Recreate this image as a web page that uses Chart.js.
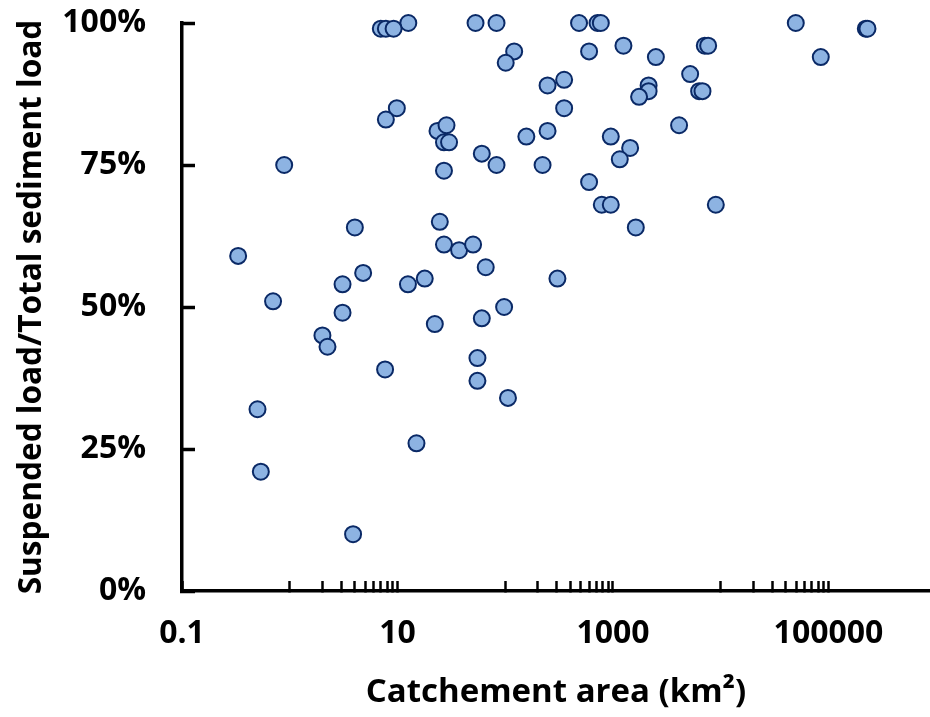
<!DOCTYPE html>
<html>
<head>
<meta charset="utf-8">
<title>Suspended load share vs catchment area</title>
<script src="https://cdn.jsdelivr.net/npm/chart.js@4.4.1/dist/chart.umd.min.js"></script>
<style>
  html, body { margin: 0; padding: 0; background: #fff; }
  #chartBox { width: 930px; height: 717px; }
</style>
</head>
<body>
<div id="chartBox"><canvas id="myChart" width="930" height="717"></canvas></div>
<script>
// catchment area in km2, one entry per river
const areaKm2 = [
    12.6, 53, 83, 484, 718, 771, 49700,
    7.0, 7.8, 9.2, 222000, 230000,
    7110, 7640, 1250, 121, 600, 2500, 84800, 101,
    5200, 352, 247, 2140, 2140, 1746, 6300, 6770,
    352, 9.86, 7.8, 23.5, 28.5, 27.0, 30.1, 157, 247, 954,
    1442, 1156, 4105, 83, 222, 27.0, 60.6, 600,
    787, 954, 9000, 1628, 305, 97.6, 106,
    0.888, 4.02, 24.7, 0.332, 27.0, 37.3, 50.3, 65.9,
    4.80, 3.09, 12.5, 17.9, 0.700, 3.09, 22.2, 60.6,
    2.01, 2.24, 7.67, 55.2, 55.2, 0.502, 0.539, 3.87, 15.0
];

// suspended load / total sediment load, in %
const suspendedPct = [
    100, 100, 100, 100, 100, 100, 100,
    99, 99, 99, 99, 99,
    96, 96, 96, 95, 95, 94, 94, 93,
    91, 90, 89, 89, 88, 87, 88, 88,
    85, 85, 83, 81, 82, 79, 79, 80, 81, 80,
    78, 76, 82, 75, 75, 74, 77, 72,
    68, 68, 68, 64, 55, 50, 34,
    75, 64, 65, 59, 61, 60, 61, 57,
    56, 54, 54, 55, 51, 49, 47, 48,
    45, 43, 39, 41, 37, 32, 21, 10, 26
];

const yTicks = [0, 25, 50, 75, 100];
const xLabelTicks = [0.1, 10, 1000, 100000];
// small ticks are only drawn in these decades (1-10, 100-1000, 10000-100000)
const xMinorDecades = [1, 100, 10000];

function buildXTicks() {
    const values = [0.1];
    xMinorDecades.forEach(function (d) {
        for (let m = 1; m <= 10; m++) {
            values.push(d * m);
        }
    });
    return values.map(function (v) { return { value: v }; });
}

Chart.defaults.font.family = '"Open Sans", Lato, sans-serif';
Chart.defaults.font.weight = 'bold';
Chart.defaults.font.size = 32;
Chart.defaults.color = '#000';

const points = areaKm2.map(function (a, i) {
    return { x: a, y: suspendedPct[i] };
});

const ctx = document.getElementById('myChart').getContext('2d');
new Chart(ctx, {
    type: 'scatter',
    data: {
        datasets: [{
            label: 'Suspended load share',
            data: points,
            pointRadius: 8,
            pointHoverRadius: 8,
            pointBorderWidth: 2,
            backgroundColor: '#8DB3E2',
            borderColor: '#0A2966',
            clip: false
        }]
    },
    options: {
        responsive: false,
        animation: false,
        events: [],
        layout: {
            autoPadding: false,
            padding: { top: 23, right: 0, bottom: 0, left: 0 }
        },
        scales: {
            x: {
                type: 'logarithmic',
                position: 'bottom',
                min: 0.1,
                max: 875000,
                afterBuildTicks: function (scale) {
                    scale.ticks = buildXTicks();
                },
                afterFit: function (scale) {
                    scale.height = 126;
                    scale.paddingLeft = 0;
                    scale.paddingRight = 0;
                },
                grid: {
                    drawOnChartArea: false,
                    drawTicks: true,
                    tickLength: -10,
                    tickWidth: 2.5,
                    tickColor: '#000'
                },
                border: { display: true, color: '#000', width: 3.5 },
                ticks: {
                    autoSkip: false,
                    maxRotation: 0,
                    minRotation: 0,
                    padding: 34,
                    callback: function (value) {
                        return xLabelTicks.includes(value) ? String(value) : '';
                    }
                },
                title: {
                    display: true,
                    text: 'Catchement area (km²)',
                    font: { size: 33 },
                    padding: { top: 0, bottom: 5 }
                }
            },
            y: {
                min: 0,
                max: 100,
                afterBuildTicks: function (scale) {
                    scale.ticks = yTicks.map(function (v) { return { value: v }; });
                },
                afterFit: function (scale) {
                    scale.width = 182;
                    scale.paddingTop = 0;
                    scale.paddingBottom = 0;
                },
                grid: {
                    drawOnChartArea: false,
                    drawTicks: true,
                    tickLength: -13,
                    tickWidth: 3.5,
                    tickColor: '#000'
                },
                border: { display: true, color: '#000', width: 3.5 },
                ticks: {
                    padding: 49,
                    callback: function (value) {
                        return value + '%';
                    }
                },
                title: {
                    display: true,
                    text: 'Suspended load/Total sediment load',
                    font: { size: 31.6 },
                    padding: { top: 13, bottom: 0 }
                }
            }
        },
        plugins: {
            legend: { display: false },
            tooltip: { enabled: false }
        }
    }
});
</script>
</body>
</html>
